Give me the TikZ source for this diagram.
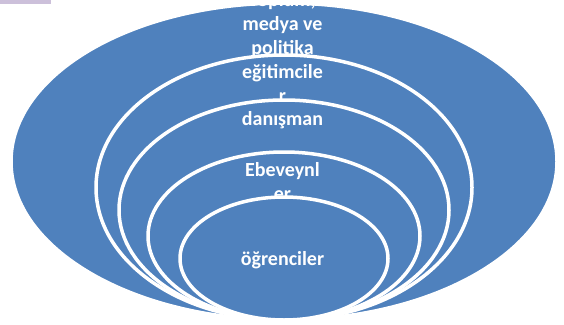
\documentclass[tikz,border=0pt]{standalone}
\usepackage{fontspec}
\setmainfont{Carlito}
\usepackage{xcolor}
\usepackage{tikz}
\usetikzlibrary{shapes.geometric}
\definecolor{ringblue}{HTML}{4F81BD}
\definecolor{tablilac}{HTML}{CCC0DA}

\begin{document}
\begin{tikzpicture}[x=1pt,y=-1pt,
  ring/.style={ellipse,draw=white,fill=ringblue,line width=3.5pt,inner sep=0pt},
  lbl/.style={text=white,font=\fontsize{20}{24}\selectfont\bfseries,align=center,anchor=base,inner sep=0pt}]
\useasboundingbox(0,0)rectangle(564,324);
\fill[tablilac](0,0)rectangle(51,4);

\node[ring,minimum width=546pt,minimum height=317pt](A)at(284,161.5){};
\node[lbl](a)at(282.5,54){Toplum,\\medya ve\\politika};
\node[ring,minimum width=376pt,minimum height=265pt](B)at(284,187.5){};
\node[lbl](b)at(282.5,102){eğitimcile\\r};
\node[ring,minimum width=330pt,minimum height=220pt](C)at(284,210){};
\node[lbl](c)at(282.5,125){danışman};
\node[ring,minimum width=272pt,minimum height=168pt](D)at(284,236){};
\node[lbl](d)at(282.5,200){Ebeveynl\\er};
\node[ring,minimum width=208pt,minimum height=123pt](E)at(284,258.5){};
\node[lbl](e)at(282.5,265){öğrenciler};

\end{tikzpicture}
\end{document}
